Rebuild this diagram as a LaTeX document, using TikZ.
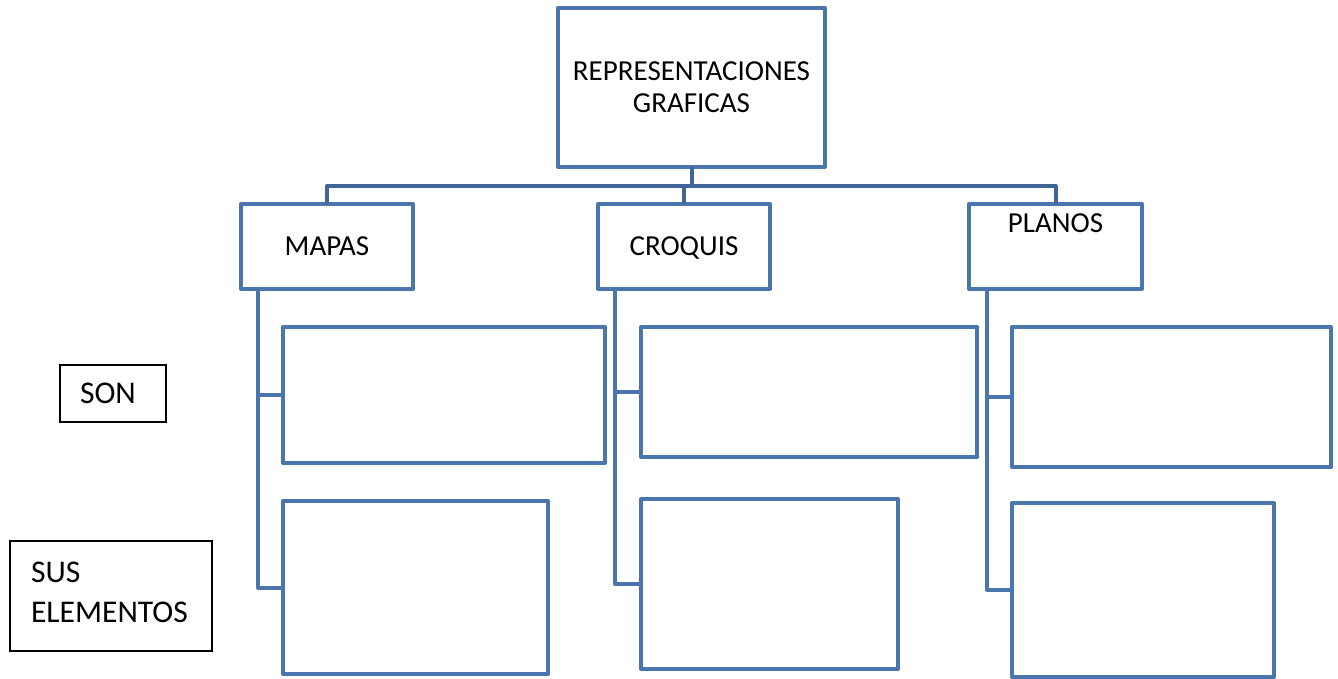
\documentclass[tikz,border=0pt]{standalone}
\usepackage{fontspec}
\setmainfont{Carlito}
\usepackage{tikz}
\usetikzlibrary{positioning}
\definecolor{boxblue}{RGB}{74,118,173}
\definecolor{busblue}{RGB}{64,101,150}

\begin{document}
\begin{tikzpicture}[
		x=1pt, y=-1pt,
		boxfont/.style={font=\fontsize{29}{32}\selectfont},
		box/.style={draw=boxblue, line width=4pt, line join=round, outer sep=0pt, inner sep=0pt, boxfont},
		tag/.style={draw=black, line width=1.5pt, outer sep=0pt, align=left, font=\fontsize{31.6}{40}\selectfont},
		bus/.style={draw=busblue, line width=4pt, line join=round},
		spine/.style={draw=boxblue, line width=4pt, line join=round}
	]
	\useasboundingbox (0,0) rectangle (1338,679);
	\node[box, minimum width=267pt, minimum height=159pt, align=center] (repr) at (691.5,87.5) {REPRESENTACIONES\\GRAFICAS};
	\node[box, minimum width=172pt, minimum height=85pt] (mapas) at (327,246.5) {MAPAS};
	\node[box, minimum width=172pt, minimum height=85pt, text depth=0pt] (croquis) at (684,246.5) {CROQUIS};
	\node[box, minimum width=173pt, minimum height=85pt,
		label={[anchor=center, yshift=-19pt, boxfont]north:PLANOS}] (planos) at (1055.5,246.5) {};
	\node[box, minimum width=322pt, minimum height=136pt] (m1) at (444,395) {};
	\node[box, minimum width=265pt, minimum height=173pt] (m2) at (415.5,587.5) {};
	\node[box, minimum width=336pt, minimum height=130pt] (c1) at (809,392) {};
	\node[box, minimum width=257pt, minimum height=170pt] (c2) at (769.5,584) {};
	\node[box, minimum width=319pt, minimum height=140pt] (p1) at (1171.5,397) {};
	\node[box, minimum width=262pt, minimum height=174pt] (p2) at (1143,590) {};
	\node[tag, minimum width=106pt, minimum height=57pt, text width=66pt, inner xsep=20pt] (son) at (113,393.5) {SON};
	\node[tag, minimum width=202pt, minimum height=110pt, text width=160pt, inner xsep=21pt, text depth=48.5pt] (sus) at (111,596) {SUS\\ELEMENTOS};
	\coordinate (bus) at (0,186);
	\draw[bus] (mapas.north) -- (mapas.north |- bus) -- (planos.north |- bus) -- (planos.north);
	\draw[bus] (repr.south) -- (repr.south |- bus);
	\draw[bus] (croquis.north) -- (croquis.north |- bus);
	\draw[spine] ([xshift=17pt]mapas.south west) |- (m1.west);
	\draw[spine] ([xshift=17pt]mapas.south west) |- (m2.west);
	\draw[spine] ([xshift=17pt]croquis.south west) |- (c1.west);
	\draw[spine] ([xshift=17pt]croquis.south west) |- (c2.west);
	\draw[spine] ([xshift=18pt]planos.south west) |- (p1.west);
	\draw[spine] ([xshift=18pt]planos.south west) |- (p2.west);
\end{tikzpicture}
\end{document}
